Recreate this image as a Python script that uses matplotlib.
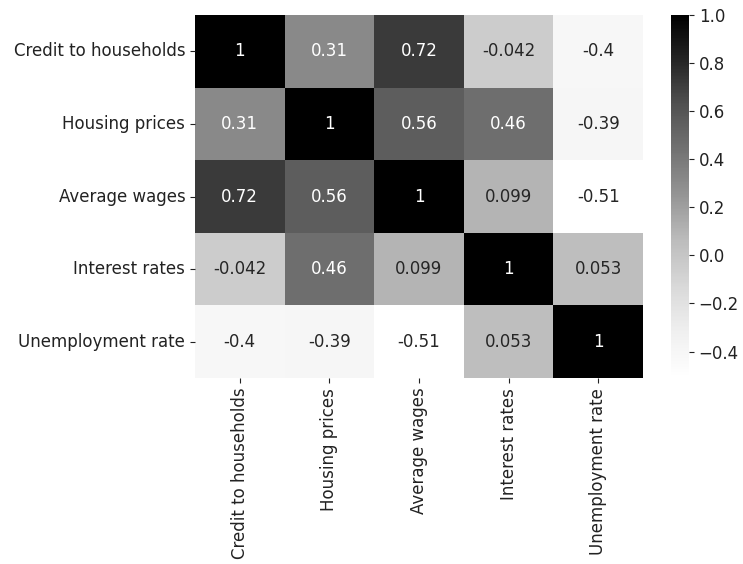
import matplotlib.pyplot as plt
import numpy as np
import pandas as pd
import seaborn as sns

labels = [
    "Credit to households",
    "Housing prices",
    "Average wages",
    "Interest rates",
    "Unemployment rate",
]

credit = [1, 0.31, 0.72, -0.042, -0.4]
housing = [0.31, 1, 0.56, 0.46, -0.39]
wages = [0.72, 0.56, 1, 0.099, -0.51]
interest = [-0.042, 0.46, 0.099, 1, 0.053]
unemployment = [-0.4, -0.39, -0.51, 0.053, 1]


def main():
    corr = pd.DataFrame(
        np.array([credit, housing, wages, interest, unemployment]),
        index=labels,
        columns=labels,
    )

    plt.rcParams["font.size"] = 12
    plt.rcParams["text.color"] = "#222222"
    plt.rcParams["xtick.color"] = "#222222"
    plt.rcParams["ytick.color"] = "#222222"
    fig = plt.figure(figsize=(7.43, 5.64), dpi=100)
    W, H = 743, 564
    ax = fig.add_axes([195 / W, 1 - 378 / H, (643 - 195) / W, (378 - 15) / H])
    cax = fig.add_axes([671 / W, 1 - 378 / H, 18 / W, (378 - 15) / H])

    sns.heatmap(corr, annot=True, cmap="Greys", ax=ax, cbar_ax=cax,
                annot_kws={"size": 12})

    ax.tick_params(axis="both", labelsize=12)
    plt.setp(ax.get_xticklabels(), rotation=90)
    plt.setp(ax.get_yticklabels(), rotation=0)
    cax.tick_params(labelsize=12)
    cax.set_yticks([-0.4, -0.2, 0.0, 0.2, 0.4, 0.6, 0.8, 1.0])

    fig.savefig("out.png", dpi=100)


if __name__ == "__main__":
    main()
